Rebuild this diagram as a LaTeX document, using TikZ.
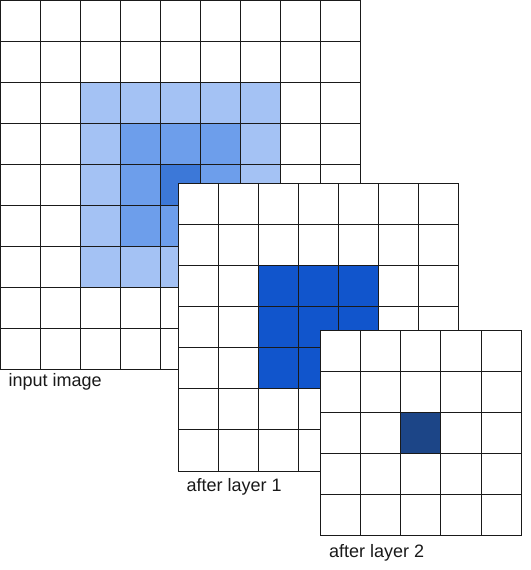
\documentclass[tikz,border=0pt]{standalone}
\usepackage{fontspec}
\setmainfont{Liberation Sans}
\usepackage{tikz}
\usetikzlibrary{positioning}
\definecolor{pixlight}{HTML}{A4C2F4}
\definecolor{pixmid}{HTML}{6D9EEB}
\definecolor{pixdark}{HTML}{3C78D8}
\definecolor{featblue}{HTML}{1155CC}
\definecolor{featdeep}{HTML}{1C4587}
\definecolor{gridline}{HTML}{1A1A1A}

\begin{document}
\begin{tikzpicture}[x=1pt, y=-1pt, font=\fontsize{18}{20}\selectfont]
		% Styles for the layers
		\tikzset{sheet/.style={fill=white}}
		\tikzset{lines/.style={draw=gridline, line width=1pt}}
		\tikzset{caption/.style={anchor=base west, inner sep=0pt, text=black!90}}
		
		\useasboundingbox (0,0) rectangle (530,570);
		
		% --- Input image, 9x9 ---
		\begin{scope}[shift={(0,0)}, x=40.1pt, y=-41.1pt]
			\fill[sheet] (0,0) rectangle (9,9);
			\fill[pixlight] (2,2) rectangle (7,7);
			\fill[pixmid] (3,3) rectangle (6,6);
			\fill[pixdark] (4,4) rectangle (5,5);
			\foreach \k in {0,...,9} {
				\draw[lines] (\k,0) -- (\k,9);
				\draw[lines] (0,\k) -- (9,\k);
			}
		\end{scope}
		\node[caption] (inlabel) at (8.5,386) {input image};
		
		% --- After layer 1, 7x7 ---
		\begin{scope}[shift={(178,183.3)}, x=40.14pt, y=-41.1pt]
			\fill[sheet] (0,0) rectangle (7,7);
			\fill[featblue] (2,2) rectangle (5,5);
			\foreach \k in {0,...,7} {
				\draw[lines] (\k,0) -- (\k,7);
				\draw[lines] (0,\k) -- (7,\k);
			}
		\end{scope}
		\node[caption] (l1label) at (186.5,491) {after layer 1};
		
		% --- After layer 2, 5x5 ---
		\begin{scope}[shift={(320.3,330.3)}, x=40.2pt, y=-41.1pt]
			\fill[sheet] (0,0) rectangle (5,5);
			\fill[featdeep] (2,2) rectangle (3,3);
			\foreach \k in {0,...,5} {
				\draw[lines] (\k,0) -- (\k,5);
				\draw[lines] (0,\k) -- (5,\k);
			}
		\end{scope}
		\node[caption] (l2label) at (329,557) {after layer 2};
	\end{tikzpicture}
\end{document}
